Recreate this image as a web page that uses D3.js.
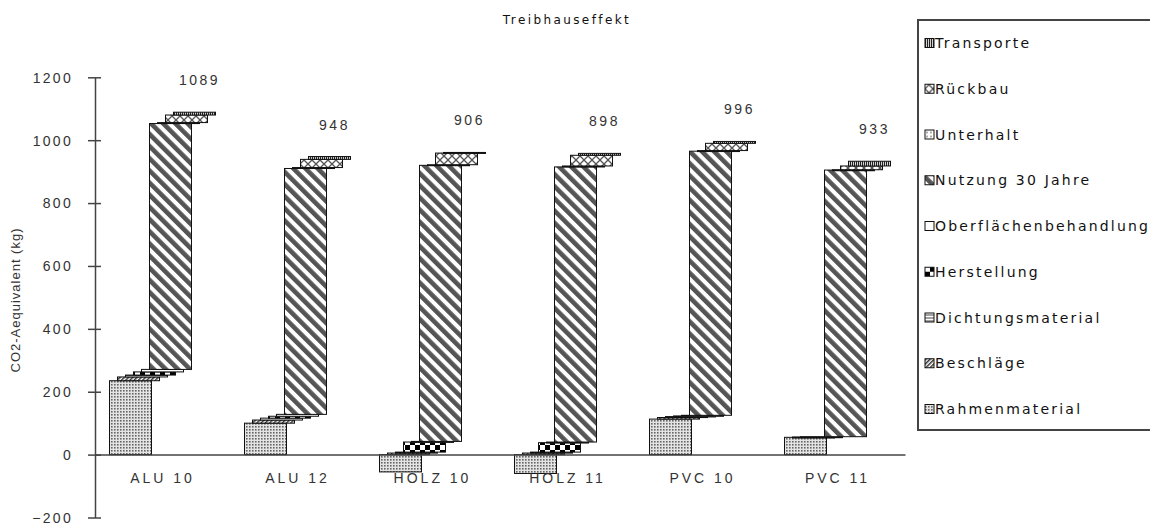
<!DOCTYPE html>
<html>
<head>
<meta charset="utf-8">
<script src="https://cdn.jsdelivr.net/npm/d3@7"></script>
<style>
  body { margin: 0; background: #fff; }
  svg { display: block; font-family: "Liberation Sans", Arial, sans-serif; }
</style>
</head>
<body>
<svg id="chart" width="1150" height="524"></svg>
<script>
const categories = ["ALU 10", "ALU 12", "HOLZ 10", "HOLZ 11", "PVC 10", "PVC 11"];
const seriesNames = ["Rahmenmaterial", "Beschläge", "Dichtungsmaterial", "Herstellung",
  "Oberflächenbehandlung", "Nutzung 30 Jahre", "Unterhalt", "Rückbau", "Transporte"];

// kg CO2-Aequivalent per category, in stacking order
const rahmenmaterial = [235, 100, -55, -60, 113, 55];
const beschlaege     = [12, 10, 5, 5, 5, 1];
const dichtung       = [6, 6, 3, 3, 3, 1];
const herstellung    = [10, 6, 32, 30, 2, 0];
const oberflaeche    = [8, 6, 2, 2, 2, 0];
const nutzung        = [782, 782, 878, 875, 840, 848];
const unterhalt      = [3, 3, 2, 3, 2, 1];
const rueckbau       = [24, 26, 37, 34, 23, 12];
const transporte     = [9, 9, 2, 6, 6, 15];
const yTicks = [-200, 0, 200, 400, 600, 800, 1000, 1200];

const seriesValues = [rahmenmaterial, beschlaege, dichtung, herstellung,
  oberflaeche, nutzung, unterhalt, rueckbau, transporte];

const svg = d3.select("#chart");
const defs = svg.append("defs");

// fill patterns, one per series
function pat(id, w, h, build, transform) {
  const p = defs.append("pattern").attr("id", id)
    .attr("patternUnits", "userSpaceOnUse").attr("width", w).attr("height", h);
  if (transform) p.attr("patternTransform", transform);
  p.append("rect").attr("width", w).attr("height", h).attr("fill", "#fff");
  build(p);
}
pat("p0", 3, 3, p => {
  p.select("rect").attr("fill", "#e4e4e4");
  p.append("rect").attr("width", 1.6).attr("height", 1.6).attr("fill", "#666");
});
pat("p1", 3, 3, p => p.append("rect").attr("width", 1.5).attr("height", 3).attr("fill", "#333"), "rotate(45)");
pat("p2", 3, 3, p => p.append("rect").attr("width", 3).attr("height", 1).attr("fill", "#444"));
pat("p3", 10, 10, p => {
  p.append("rect").attr("width", 5).attr("height", 5).attr("fill", "#000");
  p.append("rect").attr("x", 5).attr("y", 5).attr("width", 5).attr("height", 5).attr("fill", "#000");
});
pat("p4", 4, 4, p => {});
pat("p5", 8.6, 8.6, p => p.append("rect").attr("width", 4.6).attr("height", 8.6).attr("fill", "#555"), "rotate(-45)");
pat("p6", 4, 4, p => p.append("circle").attr("cx", 2).attr("cy", 2).attr("r", 0.8).attr("fill", "#444"));
pat("p7", 8, 8, p => p.append("path").attr("d", "M0,0L8,8M8,0L0,8").attr("stroke", "#555").attr("stroke-width", 1.3));
pat("p8", 2, 2, p => p.append("rect").attr("width", 1.2).attr("height", 2).attr("fill", "#222"));

const x = d3.scaleBand().domain(categories).range([95, 905]);
const y = d3.scaleLinear().domain([-200, 1200]).range([517.5, 77.3]);

const barW = 42, stepX = 8;

// waterfall-like stacking: positives step up from 0, negatives down from 0
const bars = [];
const tops = [];
categories.forEach((c, ci) => {
  let pos = 0, neg = 0, total = 0;
  seriesValues.forEach((vals, si) => {
    const v = vals[ci];
    total += v;
    let y0, y1;
    if (v >= 0) { y0 = pos; y1 = pos + v; pos = y1; }
    else { y1 = neg; y0 = neg + v; neg = y0; }
    if (v !== 0) bars.push({ c, si, y0, y1 });
  });
  tops.push({ c, top: pos, total });
});

const cx = c => x(c) + x.bandwidth() / 2;

svg.append("g").selectAll("rect")
  .data(bars)
  .join("rect")
  .attr("x", d => cx(d.c) - 53 + d.si * stepX)
  .attr("width", barW)
  .attr("y", d => y(d.y1))
  .attr("height", d => Math.max(1, y(d.y0) - y(d.y1)))
  .attr("fill", d => `url(#p${d.si})`)
  .attr("stroke", "#111")
  .attr("stroke-width", 1);

// y axis
const yAxis = svg.append("g")
  .attr("transform", "translate(95,0)")
  .call(d3.axisLeft(y).tickValues(yTicks).tickFormat(d3.format("d"))
    .tickSize(7).tickPadding(15).tickSizeOuter(0));
yAxis.select(".domain").attr("stroke", "#444").attr("stroke-width", 1.5);
yAxis.selectAll(".tick line").attr("x2", 6).attr("x1", -7).attr("stroke", "#444").attr("stroke-width", 1.5);
yAxis.selectAll(".tick text").attr("font-size", 14).attr("fill", "#333")
  .attr("letter-spacing", 2.3).attr("dy", "0.35em");

// x axis at zero
const xAxis = svg.append("g")
  .attr("transform", `translate(0,${y(0)})`)
  .call(d3.axisBottom(x).tickSize(0).tickPadding(18).tickSizeOuter(0));
xAxis.select(".domain").attr("stroke", "#444").attr("stroke-width", 1.5);
xAxis.selectAll(".tick text").attr("font-size", 14).attr("fill", "#333").attr("letter-spacing", 3);

// totals
svg.append("g").selectAll("text")
  .data(tops)
  .join("text")
  .attr("x", d => cx(d.c) + 37)
  .attr("y", d => y(d.top) - 27)
  .attr("text-anchor", "middle")
  .attr("font-size", 14)
  .attr("letter-spacing", 2.5)
  .attr("fill", "#333")
  .text(d => d.total);

// axis title
svg.append("text")
  .attr("transform", "translate(20,300) rotate(-90)")
  .attr("text-anchor", "middle")
  .attr("font-size", 13)
  .attr("letter-spacing", 1)
  .attr("fill", "#333")
  .text("CO2-Aequivalent (kg)");

// chart title
svg.append("text")
  .attr("x", 567).attr("y", 24)
  .attr("text-anchor", "middle")
  .attr("font-family", "DejaVu Sans")
  .attr("font-size", 12)
  .attr("letter-spacing", 2.4)
  .attr("fill", "#111")
  .text("Treibhauseffekt");

// legend
svg.append("rect")
  .attr("x", 918).attr("y", 20).attr("width", 250).attr("height", 410)
  .attr("fill", "#fff").attr("stroke", "#444").attr("stroke-width", 2);

const legendItems = seriesNames.map((name, i) => ({ name, i })).reverse();
const leg = svg.append("g").selectAll("g")
  .data(legendItems)
  .join("g")
  .attr("transform", (d, k) => `translate(925,${43 + k * 45.75})`);
leg.append("rect")
  .attr("x", 0).attr("y", -4.5).attr("width", 9).attr("height", 9)
  .attr("fill", d => `url(#p${d.i})`).attr("stroke", "#111");
leg.append("text")
  .attr("x", 10).attr("y", 5)
  .attr("font-family", "DejaVu Sans")
  .attr("font-size", 14)
  .attr("letter-spacing", 2.2)
  .attr("fill", "#111")
  .text(d => d.name);
</script>
</body>
</html>
